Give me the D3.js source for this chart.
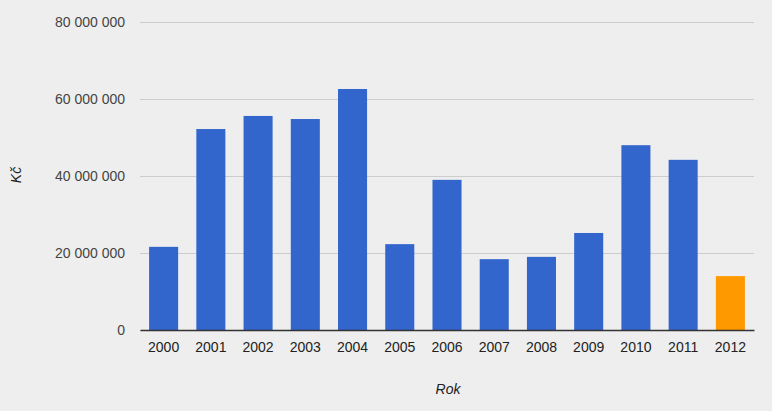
<!DOCTYPE html>
<html><head><meta charset="utf-8">
<script src="https://cdn.jsdelivr.net/npm/d3@7"></script>
<style>body{margin:0;background:#eeeeee}svg{display:block}</style>
</head><body>
<script>
const categories = ["2000","2001","2002","2003","2004","2005","2006","2007","2008","2009","2010","2011","2012"];
const values = [21600000,52200000,55600000,54800000,62600000,22300000,39000000,18400000,19000000,25200000,48000000,44200000,14000000];
const highlight = ["2012"];
const yTicks = [0,20000000,40000000,60000000,80000000];
const yTitle = "Kč", xTitle = "Rok";

(function(){
const W=772,H=411, pL=140,pR=754,pT=22,pB=330;
const svg=d3.select("body").append("svg").attr("width",W).attr("height",H);
svg.append("rect").attr("width",W).attr("height",H).attr("fill","#eeeeee");
const x=d3.scaleBand().domain(categories).range([pL,pR]).paddingInner(0.385).paddingOuter(0.1925);
const y=d3.scaleLinear().domain([0,80000000]).range([pB,pT]);
const fmt=v=>d3.format(",")(v).replace(/,/g," ");
const font="Arial, 'Liberation Sans', sans-serif";

const ya=svg.append("g").attr("transform",`translate(${pL},0)`)
 .call(d3.axisLeft(y).tickValues(yTicks).tickSize(-(pR-pL)).tickFormat(fmt).tickPadding(15));
ya.select(".domain").remove();
ya.selectAll("line").attr("stroke","#cccccc");
ya.selectAll("text").attr("fill","#444444").attr("font-size",14).attr("font-family",font);

svg.selectAll("rect.bar").data(categories).enter().append("rect").attr("class","bar")
 .attr("x",d=>x(d)).attr("width",x.bandwidth())
 .attr("y",(d,i)=>y(values[i])).attr("height",(d,i)=>y(0)-y(values[i]))
 .attr("fill",d=>highlight.includes(d)?"#ff9900":"#3366cc");

const xa=svg.append("g").attr("transform",`translate(0,${pB})`)
 .call(d3.axisBottom(x).tickSize(0).tickPadding(12));
xa.select(".domain").attr("stroke","#333333").attr("stroke-width",1.5);
xa.selectAll("text").attr("fill","#222222").attr("font-size",14).attr("font-family",font);

svg.append("text").attr("x",448).attr("y",394).attr("text-anchor","middle")
 .attr("font-style","italic").attr("font-size",14).attr("font-family",font).attr("fill","#222222").text(xTitle);
svg.append("text").attr("transform","translate(21,175) rotate(-90)").attr("text-anchor","middle")
 .attr("font-style","italic").attr("font-size",14).attr("font-family",font).attr("fill","#222222").text(yTitle);
})();
</script>
</body></html>
